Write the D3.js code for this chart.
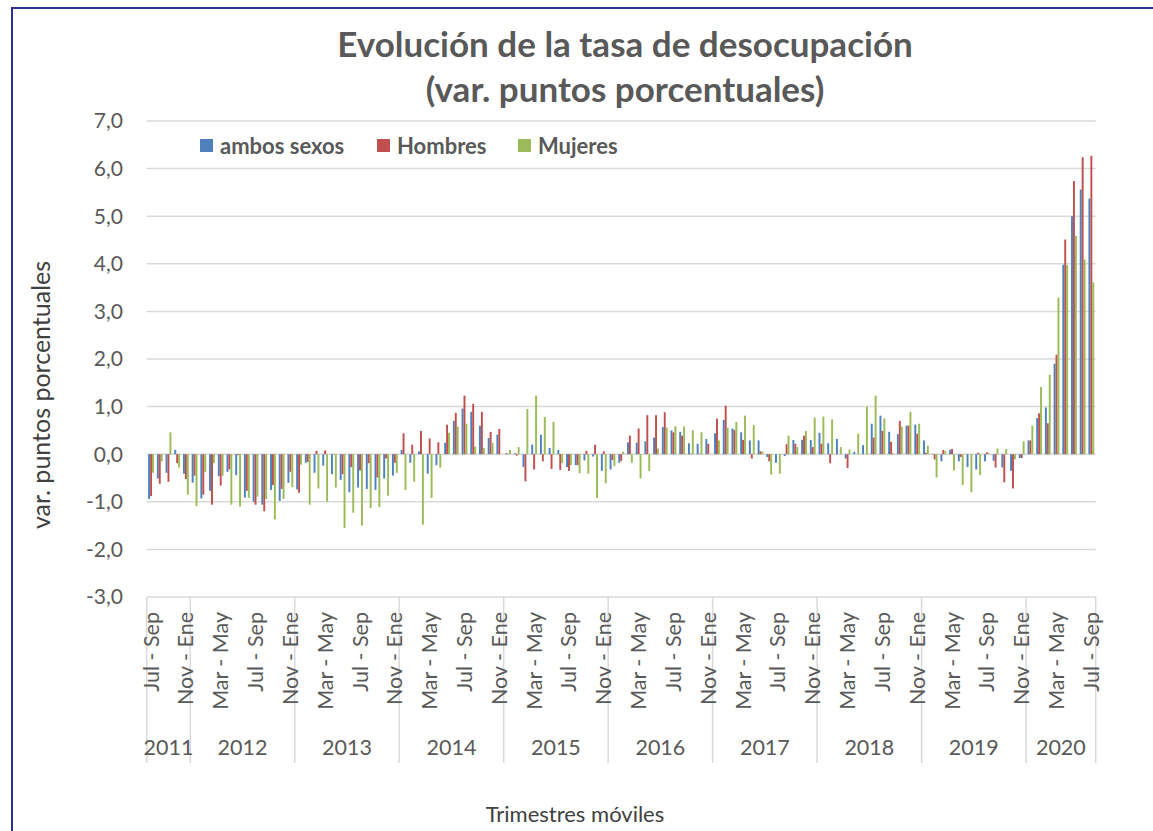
<!DOCTYPE html>
<html lang="es">
<head>
<meta charset="UTF-8">
<title>Evolución de la tasa de desocupación</title>
<script src="https://d3js.org/d3.v7.min.js"></script>
<style>
  body { margin: 0; background: #fff; }
  svg { display: block; font-family: Lato, "Open Sans", sans-serif; }
</style>
</head>
<body>
<svg id="chart" width="1153" height="831"></svg>
<script>
// trimestres móviles, desde Jul-Sep 2011 hasta Jul-Sep 2020
const periods = ["Jul - Sep", "Ago - Oct", "Sep - Nov", "Oct - Dic", "Nov - Ene", "Dic - Feb",
                 "Ene - Mar", "Feb - Abr", "Mar - May", "Abr - Jun", "May - Jul", "Jun - Ago"];
const years = ["2011", "2012", "2013", "2014", "2015", "2016", "2017", "2018", "2019", "2020"];
const yearCounts = [5, 12, 12, 12, 12, 12, 12, 12, 12, 8];
const yTicks = [-3, -2, -1, 0, 1, 2, 3, 4, 5, 6, 7];

const ambos = [
  -0.94, -0.51, -0.39, 0.09, -0.41, -0.60, -0.93, -0.77, -0.46, -0.37, -0.44, -0.91,
  -1.00, -1.06, -0.75, -0.98, -0.60, -0.74, -0.18, -0.39, -0.24, -0.42, -0.54, -0.80,
  -0.70, -0.73, -0.75, -0.51, -0.45, 0.09, -0.18, 0.06, -0.41, -0.23, 0.24, 0.70,
  0.96, 0.89, 0.60, 0.34, 0.41, 0.02, 0.02, -0.27, 0.20, 0.41, 0.13, 0.09,
  -0.27, -0.23, -0.13, -0.05, -0.35, -0.32, -0.18, 0.25, 0.24, 0.27, 0.35, 0.57,
  0.50, 0.47, 0.23, 0.22, 0.32, 0.44, 0.72, 0.54, 0.46, 0.29, 0.29, -0.06,
  -0.18, -0.04, 0.30, 0.30, 0.30, 0.45, 0.23, 0.32, -0.09, 0.05, 0.19, 0.64,
  0.81, 0.47, 0.42, 0.60, 0.62, 0.29, 0.01, -0.15, 0.09, -0.15, -0.27, -0.32,
  -0.15, -0.14, -0.28, -0.35, -0.08, 0.29, 0.76, 0.98, 1.90, 3.98, 5.00, 5.56,
  5.37
];
const hombres = [
  -0.88, -0.62, -0.58, -0.19, -0.52, -0.45, -0.85, -1.06, -0.66, -0.32, -0.02, -0.77,
  -1.06, -1.20, -0.65, -0.73, -0.37, -0.81, -0.16, 0.07, 0.08, -0.01, -0.42, -0.27,
  -0.34, -0.19, -0.49, -0.09, -0.18, 0.44, 0.20, 0.49, 0.33, 0.25, 0.62, 0.87,
  1.23, 1.06, 0.89, 0.47, 0.53, 0.01, -0.03, -0.57, -0.32, -0.15, -0.31, -0.33,
  -0.35, -0.23, 0.07, 0.20, 0.06, -0.12, -0.14, 0.39, 0.54, 0.82, 0.82, 0.88,
  0.46, 0.39, 0.01, 0.01, 0.22, 0.75, 1.02, 0.51, 0.30, -0.09, 0.06, -0.15,
  0.00, 0.21, 0.22, 0.39, 0.15, 0.22, -0.19, 0.00, -0.29, 0.00, 0.00, 0.35,
  0.49, 0.26, 0.70, 0.60, 0.43, 0.03, -0.11, 0.09, 0.11, -0.06, 0.00, 0.03,
  0.04, -0.28, -0.59, -0.72, -0.08, 0.29, 0.86, 0.65, 2.09, 4.51, 5.74, 6.24,
  6.27
];
const mujeres = [
  -0.39, -0.15, 0.46, -0.28, -0.85, -1.09, -0.37, -0.19, -0.45, -1.06, -1.10, -0.92,
  -0.89, -0.94, -1.37, -0.94, -0.69, -0.22, -1.06, -0.72, -1.00, -0.70, -1.55, -1.23,
  -1.50, -1.13, -1.11, -0.87, -0.39, -0.75, -0.58, -1.48, -0.92, -0.28, 0.45, 0.58,
  0.64, 0.16, 0.13, 0.24, 0.00, 0.09, 0.15, 0.95, 1.23, 0.78, 0.68, -0.19,
  -0.23, -0.40, -0.41, -0.92, -0.61, -0.25, 0.05, -0.18, -0.51, -0.35, 0.12, 0.56,
  0.59, 0.58, 0.50, 0.46, 0.00, 0.29, 0.56, 0.68, 0.81, 0.61, 0.06, -0.43,
  -0.41, 0.39, 0.15, 0.49, 0.77, 0.79, 0.73, 0.15, 0.10, 0.43, 1.00, 1.23,
  0.75, 0.02, 0.58, 0.89, 0.64, 0.18, -0.49, 0.06, -0.34, -0.65, -0.80, -0.44,
  0.02, 0.12, 0.11, -0.11, 0.27, 0.60, 1.41, 1.67, 3.29, 3.97, 4.59, 4.09,
  3.61
];

const seriesNames = ["ambos sexos", "Hombres", "Mujeres"];
const seriesColors = ["#4F81BD", "#C0504D", "#9BBB59"];

const svg = d3.select("#chart");
const plotLeft = 146.7, plotRight = 1095.7, plotTop = 121, plotBottom = 597;
const textColor = "#595959";

const categories = ambos.map((d, i) => i);
const labelOf = i => periods[i % 12];

const x = d3.scaleBand().domain(categories).range([plotLeft, plotRight]).padding(0);
const xs = d3.scaleBand().domain([0, 1, 2]).range([1.45, x.bandwidth() - 1.45]);
const y = d3.scaleLinear().domain([-3, 7]).range([plotBottom, plotTop]);

// marco del gráfico
svg.append("rect")
  .attr("x", 12).attr("y", 8).attr("width", 1160).attr("height", 840)
  .attr("fill", "none").attr("stroke", "#2E3192").attr("stroke-width", 2);

// líneas de división
svg.append("g").selectAll("line").data(yTicks).join("line")
  .attr("x1", plotLeft).attr("x2", plotRight)
  .attr("y1", d => y(d)).attr("y2", d => y(d))
  .attr("stroke", "#D9D9D9").attr("stroke-width", 1.5);

// etiquetas eje Y
svg.append("g").selectAll("text").data(yTicks).join("text")
  .attr("x", 123).attr("y", d => y(d))
  .attr("dy", "0.35em").attr("text-anchor", "end")
  .attr("fill", textColor).attr("font-size", 21)
  .text(d => d3.format(".1f")(d).replace(".", ",").replace("−", "-"));

// barras
const data = [ambos, hombres, mujeres];
data.forEach((values, s) => {
  svg.append("g").selectAll("rect").data(values).join("rect")
    .attr("x", (d, i) => x(i) + xs(s))
    .attr("width", xs.bandwidth())
    .attr("y", d => Math.min(y(0), y(d)))
    .attr("height", d => Math.abs(y(d) - y(0)))
    .attr("fill", seriesColors[s]);
});

// eje de categorías de dos niveles
const axisG = svg.append("g");
let start = 0;
const bounds = [0];
yearCounts.forEach(c => { start += c; bounds.push(start); });
axisG.selectAll("line.sep").data(bounds).join("line")
  .attr("class", "sep")
  .attr("x1", d => plotLeft + d * x.step()).attr("x2", d => plotLeft + d * x.step())
  .attr("y1", plotBottom).attr("y2", 763)
  .attr("stroke", "#D9D9D9").attr("stroke-width", 1.5);

axisG.selectAll("text.cat").data(categories.filter(i => i % 4 === 0)).join("text")
  .attr("class", "cat")
  .attr("transform", d => `translate(${x(d) + x.bandwidth() / 2},612) rotate(-90)`)
  .attr("text-anchor", "end").attr("dy", "0.35em")
  .attr("fill", textColor).attr("font-size", 21.5)
  .text(d => labelOf(d));

axisG.selectAll("text.year").data(years).join("text")
  .attr("class", "year")
  .attr("x", (d, i) => plotLeft + (bounds[i] + bounds[i + 1]) / 2 * x.step())
  .attr("y", 755)
  .attr("text-anchor", "middle")
  .attr("fill", textColor).attr("font-size", 21.5)
  .text(d => d);

// títulos
svg.append("text")
  .attr("x", 625).attr("y", 57).attr("text-anchor", "middle")
  .attr("fill", textColor).attr("font-size", 35).attr("font-weight", "bold")
  .text("Evolución de la tasa de desocupación");
svg.append("text")
  .attr("x", 625).attr("y", 102).attr("text-anchor", "middle")
  .attr("fill", textColor).attr("font-size", 35).attr("font-weight", "bold")
  .text("(var. puntos porcentuales)");

svg.append("text")
  .attr("transform", "translate(41,395) rotate(-90)")
  .attr("text-anchor", "middle").attr("dy", "0.35em")
  .attr("fill", "#404040").attr("font-size", 25)
  .text("var. puntos porcentuales");

svg.append("text")
  .attr("x", 575).attr("y", 822).attr("text-anchor", "middle")
  .attr("fill", "#404040").attr("font-size", 22)
  .text("Trimestres móviles");

// leyenda
const legendX = [200, 377, 518];
const legend = svg.append("g").selectAll("g").data(seriesNames).join("g")
  .attr("transform", (d, i) => `translate(${legendX[i]},139)`);
legend.append("rect").attr("width", 13).attr("height", 13)
  .attr("fill", (d, i) => seriesColors[i]);
legend.append("text").attr("x", 20).attr("y", 7).attr("dy", "0.35em")
  .attr("fill", textColor).attr("font-size", 22).attr("font-weight", "bold")
  .text(d => d);
</script>
</body>
</html>
